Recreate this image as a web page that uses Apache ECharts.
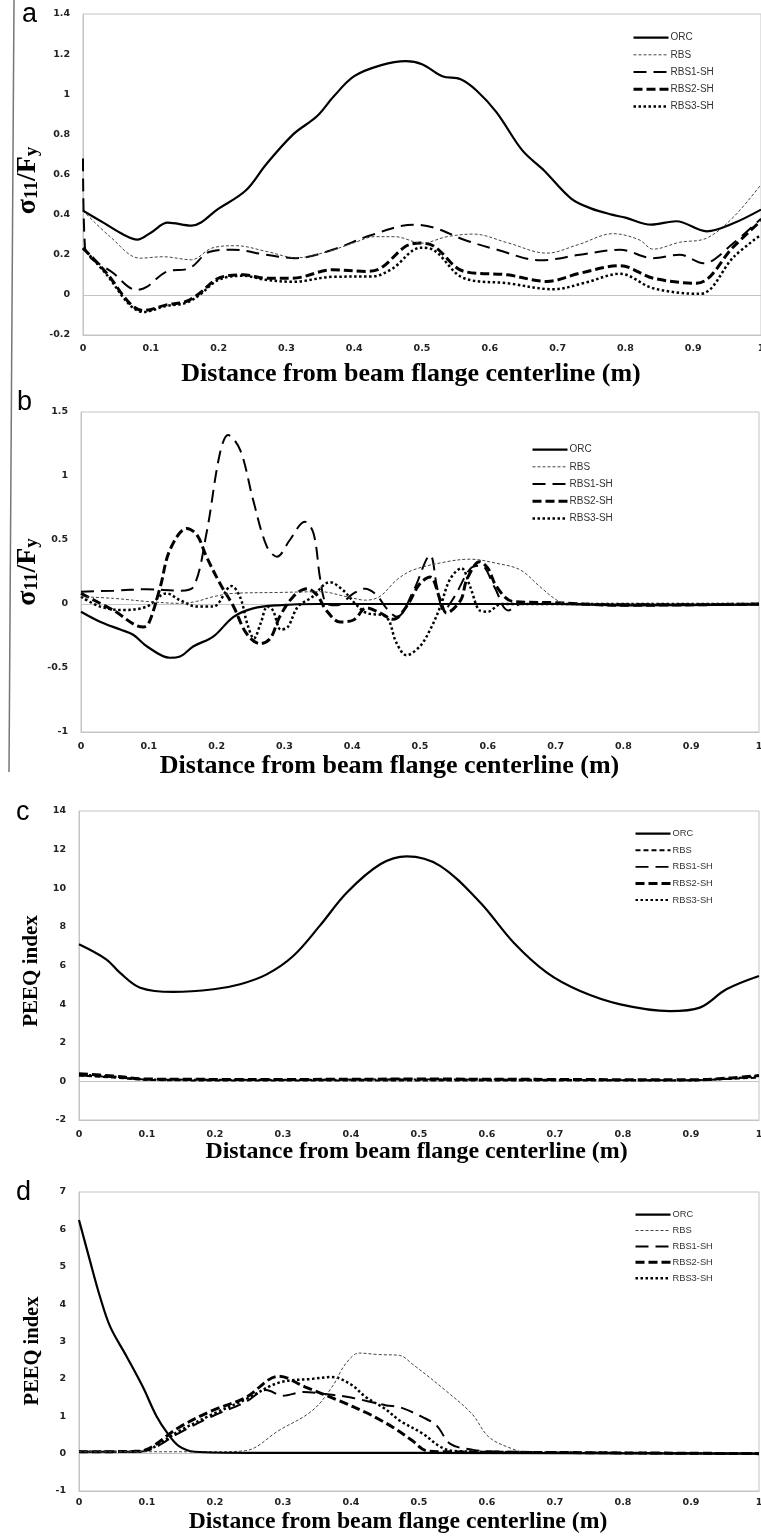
<!DOCTYPE html>
<html><head><meta charset="utf-8">
<script src="https://cdn.jsdelivr.net/npm/echarts/dist/echarts.min.js"></script>
<style>html,body{margin:0;padding:0;background:#fff}#c{width:761px;height:1540px}</style>
</head><body><div id="c"></div><script>
// ---------- DATA ----------
const seriesNames = ['ORC', 'RBS', 'RBS1-SH', 'RBS2-SH', 'RBS3-SH'];
const panelLetters = ['a', 'b', 'c', 'd'];
const xAxisTitle = 'Distance from beam flange centerline (m)';
const yTitleStress = '{m|σ}{s|11}{m|/F}{s|y}';
const yTitlePEEQ = 'PEEQ index';

// Panel a : sigma11/Fy
const a_ORC = [[0,0.42],[0.03,0.36],[0.06,0.30],[0.08,0.275],[0.1,0.31],[0.125,0.36],[0.16,0.345],[0.2,0.43],[0.24,0.52],[0.27,0.65],[0.31,0.80],[0.345,0.89],[0.37,0.99],[0.40,1.09],[0.44,1.145],[0.476,1.165],[0.5,1.15],[0.53,1.09],[0.557,1.075],[0.58,1.02],[0.61,0.91],[0.648,0.72],[0.68,0.62],[0.72,0.48],[0.75,0.43],[0.78,0.40],[0.80,0.385],[0.838,0.35],[0.875,0.367],[0.92,0.317],[0.96,0.358],[1.0,0.425]];
const a_RBS = [[0,0.42],[0.04,0.29],[0.084,0.183],[0.118,0.19],[0.16,0.175],[0.19,0.233],[0.226,0.245],[0.27,0.217],[0.315,0.185],[0.36,0.215],[0.40,0.26],[0.43,0.29],[0.46,0.29],[0.5,0.258],[0.537,0.29],[0.576,0.303],[0.626,0.26],[0.684,0.208],[0.73,0.25],[0.782,0.305],[0.82,0.275],[0.841,0.228],[0.88,0.262],[0.92,0.283],[0.96,0.39],[1.0,0.55]];
const a_RBS1 = [[0,0.68],[0.003,0.235],[0.045,0.108],[0.079,0.025],[0.094,0.04],[0.123,0.115],[0.157,0.133],[0.187,0.215],[0.221,0.225],[0.27,0.20],[0.314,0.183],[0.368,0.225],[0.427,0.30],[0.488,0.35],[0.518,0.335],[0.562,0.275],[0.611,0.225],[0.675,0.172],[0.733,0.20],[0.792,0.225],[0.841,0.183],[0.88,0.20],[0.915,0.158],[0.96,0.26],[1.0,0.38]];
const a_RBS2 = [[0,0.233],[0.035,0.108],[0.069,-0.042],[0.089,-0.078],[0.123,-0.05],[0.152,-0.033],[0.172,0.008],[0.2,0.083],[0.236,0.10],[0.27,0.083],[0.309,0.083],[0.368,0.125],[0.417,0.117],[0.44,0.135],[0.476,0.242],[0.498,0.258],[0.518,0.242],[0.562,0.117],[0.626,0.10],[0.684,0.067],[0.733,0.108],[0.792,0.145],[0.841,0.083],[0.905,0.058],[0.96,0.242],[1.0,0.37]];
const a_RBS3 = [[0,0.233],[0.035,0.10],[0.069,-0.05],[0.089,-0.085],[0.123,-0.055],[0.152,-0.04],[0.172,0.0],[0.2,0.075],[0.236,0.095],[0.27,0.075],[0.309,0.065],[0.368,0.09],[0.427,0.092],[0.456,0.13],[0.498,0.235],[0.518,0.222],[0.562,0.083],[0.626,0.058],[0.694,0.028],[0.74,0.06],[0.792,0.105],[0.841,0.033],[0.91,0.005],[0.96,0.19],[1.0,0.30]];

// Panel b : sigma11/Fy
const b_ORC = [[0,-0.06],[0.028,-0.138],[0.058,-0.2],[0.077,-0.24],[0.097,-0.33],[0.131,-0.42],[0.146,-0.41],[0.166,-0.33],[0.195,-0.255],[0.225,-0.10],[0.254,-0.034],[0.29,-0.01],[0.35,0.0],[0.5,0.0],[0.7,0.0],[0.8,-0.01],[1.0,-0.005]];
const b_RBS = [[0,0.057],[0.048,0.044],[0.097,0.02],[0.146,0.005],[0.17,0.02],[0.195,0.057],[0.225,0.083],[0.29,0.09],[0.353,0.096],[0.392,0.057],[0.42,0.03],[0.441,0.06],[0.466,0.19],[0.49,0.266],[0.539,0.33],[0.574,0.35],[0.613,0.318],[0.648,0.266],[0.677,0.135],[0.702,0.03],[0.72,0.0],[0.8,0.0],[1.0,0.0]];
const b_RBS1 = [[0,0.096],[0.048,0.104],[0.097,0.115],[0.146,0.104],[0.166,0.135],[0.185,0.55],[0.205,1.18],[0.217,1.32],[0.235,1.20],[0.254,0.81],[0.274,0.45],[0.289,0.37],[0.308,0.50],[0.33,0.643],[0.343,0.55],[0.353,0.19],[0.362,0.005],[0.377,-0.01],[0.402,0.083],[0.419,0.12],[0.436,0.07],[0.45,-0.03],[0.466,-0.1],[0.49,0.1],[0.515,0.38],[0.525,0.135],[0.535,-0.05],[0.55,0.05],[0.575,0.28],[0.59,0.3],[0.61,0.13],[0.63,-0.05],[0.65,0.0],[1.0,0.0]];
const b_RBS2 = [[0,0.083],[0.048,-0.05],[0.092,-0.18],[0.1,-0.15],[0.117,0.135],[0.131,0.42],[0.156,0.59],[0.171,0.54],[0.185,0.37],[0.205,0.16],[0.225,-0.02],[0.244,-0.23],[0.264,-0.31],[0.279,-0.27],[0.293,-0.1],[0.313,0.057],[0.333,0.12],[0.348,0.07],[0.362,-0.05],[0.382,-0.14],[0.402,-0.125],[0.421,-0.03],[0.441,-0.07],[0.461,-0.12],[0.48,-0.02],[0.5,0.16],[0.515,0.21],[0.53,0.03],[0.539,-0.07],[0.56,0.03],[0.569,0.19],[0.588,0.33],[0.6,0.28],[0.613,0.135],[0.637,0.02],[0.7,0.01],[0.8,-0.01],[1.0,0.0]];
const b_RBS3 = [[0,0.057],[0.028,-0.02],[0.062,-0.047],[0.097,-0.02],[0.126,0.083],[0.146,0.03],[0.171,-0.02],[0.195,-0.02],[0.222,0.14],[0.235,0.05],[0.245,-0.15],[0.255,-0.27],[0.265,-0.15],[0.275,-0.02],[0.283,-0.05],[0.295,-0.2],[0.305,-0.18],[0.32,-0.02],[0.34,0.05],[0.367,0.17],[0.386,0.11],[0.405,0.0],[0.421,-0.07],[0.45,-0.1],[0.465,-0.3],[0.48,-0.40],[0.5,-0.33],[0.515,-0.2],[0.53,-0.02],[0.544,0.19],[0.561,0.28],[0.574,0.135],[0.588,-0.05],[0.6,-0.06],[0.62,0.0],[0.7,0.0],[1.0,0.0]];

// Panel c : PEEQ index
const c_ORC = [[0,7.1],[0.04,6.32],[0.06,5.63],[0.09,4.85],[0.139,4.63],[0.198,4.77],[0.237,5.03],[0.276,5.54],[0.315,6.49],[0.354,8.05],[0.394,9.78],[0.443,11.24],[0.482,11.65],[0.531,11.16],[0.59,9.26],[0.639,7.19],[0.688,5.63],[0.737,4.68],[0.796,3.99],[0.869,3.64],[0.913,3.82],[0.952,4.77],[1.0,5.46]];
const c_RBS = [[0,0.3],[0.05,0.2],[0.1,0.08],[0.2,0.05],[0.4,0.05],[0.6,0.05],[0.8,0.05],[0.9,0.05],[0.95,0.12],[1.0,0.2]];
const c_RBS1 = [[0,0.3],[0.05,0.22],[0.1,0.1],[0.3,0.08],[0.5,0.1],[0.7,0.08],[0.9,0.06],[1.0,0.25]];
const c_RBS2 = [[0,0.4],[0.05,0.28],[0.1,0.12],[0.3,0.1],[0.5,0.12],[0.7,0.1],[0.9,0.08],[0.96,0.18],[1.0,0.3]];
const c_RBS3 = [[0,0.35],[0.05,0.25],[0.1,0.1],[0.3,0.08],[0.5,0.1],[0.7,0.08],[0.9,0.06],[1.0,0.28]];

// Panel d : PEEQ index
const d_ORC = [[0,6.25],[0.016,5.17],[0.031,4.19],[0.046,3.39],[0.07,2.6],[0.094,1.78],[0.114,1.0],[0.13,0.55],[0.147,0.2],[0.17,0.05],[0.25,0.02],[0.5,0.02],[1.0,0.0]];
const d_RBS = [[0,0.05],[0.1,0.05],[0.2,0.05],[0.245,0.08],[0.294,0.62],[0.343,1.15],[0.372,1.78],[0.392,2.4],[0.412,2.69],[0.441,2.65],[0.471,2.63],[0.49,2.4],[0.539,1.69],[0.578,1.06],[0.603,0.44],[0.637,0.13],[0.66,0.03],[1.0,0.0]];
const d_RBS1 = [[0,0.05],[0.08,0.05],[0.1,0.08],[0.147,0.55],[0.196,1.0],[0.245,1.38],[0.275,1.7],[0.3,1.55],[0.33,1.65],[0.36,1.6],[0.4,1.5],[0.452,1.29],[0.472,1.24],[0.506,0.97],[0.526,0.75],[0.546,0.26],[0.58,0.1],[0.61,0.06],[0.7,0.03],[1.0,0.0]];
const d_RBS2 = [[0,0.05],[0.08,0.06],[0.098,0.1],[0.147,0.7],[0.196,1.15],[0.245,1.5],[0.294,2.07],[0.333,1.78],[0.382,1.42],[0.422,1.1],[0.443,0.9],[0.462,0.7],[0.49,0.35],[0.51,0.08],[0.53,0.05],[0.7,0.03],[1.0,0.0]];
const d_RBS3 = [[0,0.05],[0.08,0.05],[0.098,0.08],[0.147,0.6],[0.196,1.05],[0.245,1.45],[0.294,1.9],[0.343,2.0],[0.372,2.05],[0.4,1.85],[0.422,1.51],[0.45,1.2],[0.472,0.88],[0.506,0.53],[0.53,0.2],[0.55,0.07],[0.7,0.03],[1.0,0.0]];

// Axis ranges
const xRange = [0, 1, 0.1];
const yRanges = [[-0.2, 1.4, 0.2], [-1, 1.5, 0.5], [-2, 14, 2], [-1, 7, 1]];

// ---------- STYLE / LAYOUT ----------
const panelData = [
  [a_ORC, a_RBS, a_RBS1, a_RBS2, a_RBS3],
  [b_ORC, b_RBS, b_RBS1, b_RBS2, b_RBS3],
  [c_ORC, c_RBS, c_RBS1, c_RBS2, c_RBS3],
  [d_ORC, d_RBS, d_RBS1, d_RBS2, d_RBS3]
];
const baseStyles = [
  {color: '#000', width: 2.2, type: 'solid'},
  {color: '#444', width: 1, type: [3, 2]},
  {color: '#000', width: 2, type: [13, 7]},
  {color: '#000', width: 3, type: [9, 4]},
  {color: '#000', width: 2.5, type: [2.5, 2.5]}
];
const cStyles = [
  baseStyles[0],
  {color: '#000', width: 2, type: [5, 3]},
  {color: '#000', width: 1.8, type: [13, 7]},
  {color: '#000', width: 3, type: [9, 4]},
  {color: '#000', width: 2, type: [2.5, 2.5]}
];
const layouts = [
  {grid: {left: 83, top: 14, width: 678, height: 321}, legend: {left: 632, top: 32, itemGap: 6, fs: 10},
   xName: {gap: 26, fs: 26, pr: 22}, yName: {gap: 41, pr: 12}, labelMargin: 9, letter: {x: 22, top: 1}, styles: baseStyles},
  {grid: {left: 81, top: 412, width: 678, height: 320}, legend: {left: 531, top: 444, itemGap: 6, fs: 10},
   xName: {gap: 21, fs: 26, pr: 61}, yName: {gap: 39, pr: 0}, labelMargin: 10, letter: {x: 17, top: 389}, styles: baseStyles},
  {grid: {left: 79, top: 811, width: 680, height: 309}, legend: {left: 634, top: 828, itemGap: 5.4, fs: 9.3},
   xName: {gap: 20, fs: 23.9, pr: 5}, yName: {gap: 37, pr: 11}, labelMargin: 10, letter: {x: 16, top: 799}, styles: cStyles},
  {grid: {left: 79, top: 1192, width: 680, height: 299}, legend: {left: 634, top: 1209, itemGap: 4.7, fs: 9.3},
   xName: {gap: 19, fs: 23.7, pr: 42}, yName: {gap: 36, pr: 19}, labelMargin: 7, letter: {x: 16, top: 1179}, styles: baseStyles}
];

const serif = "'Liberation Serif', 'Times New Roman', serif";
const tickFont = {fontFamily: "'DejaVu Sans', sans-serif", fontWeight: 'bold', fontSize: 9.5, color: '#222'};

const grids = [], xAxes = [], yAxes = [], series = [], legends = [], graphics = [];
layouts.forEach((L, p) => {
  grids.push(Object.assign({show: true, borderColor: '#c4c4c4', borderWidth: 1, backgroundColor: '#fff',
    containLabel: false, outerBoundsMode: 'none'}, L.grid));
  xAxes.push({
    type: 'value', gridIndex: p, min: xRange[0], max: xRange[1], interval: xRange[2],
    axisLine: {show: true, onZero: false, lineStyle: {color: '#c4c4c4'}},
    axisTick: {show: false}, splitLine: {show: false},
    axisLabel: Object.assign({margin: L.labelMargin, showMaxLabel: true, showMinLabel: true}, tickFont),
    name: xAxisTitle, nameLocation: 'middle', nameGap: L.xName.gap, nameMoveOverlap: false,
    nameTextStyle: {fontFamily: serif, fontWeight: 'bold', fontSize: L.xName.fs, color: '#000', padding: [0, L.xName.pr, 0, 0]}
  });
  const yr = yRanges[p];
  const isStress = p < 2;
  yAxes.push({
    type: 'value', gridIndex: p, min: yr[0], max: yr[1], interval: yr[2],
    axisLine: {show: true, lineStyle: {color: '#c4c4c4'}},
    axisTick: {show: false}, splitLine: {show: false},
    axisLabel: Object.assign({margin: 13}, tickFont),
    name: isStress ? yTitleStress : yTitlePEEQ, nameLocation: 'middle', nameRotate: 90,
    nameGap: L.yName.gap, nameMoveOverlap: false,
    nameTextStyle: isStress ? {
      padding: [0, L.yName.pr, 0, 0],
      rich: {
        m: {fontFamily: serif, fontWeight: 'bold', fontSize: 28, color: '#000', verticalAlign: 'bottom', lineHeight: 30},
        s: {fontFamily: serif, fontWeight: 'bold', fontSize: 19, color: '#000', verticalAlign: 'bottom', lineHeight: 12}
      }
    } : {fontFamily: serif, fontWeight: 'bold', fontSize: p === 2 ? 21 : 20.5, color: '#000', padding: [0, L.yName.pr, 0, 0]}
  });
  panelData[p].forEach((data, i) => {
    const st = L.styles[i];
    const s = {
      type: 'line', name: seriesNames[i], xAxisIndex: p, yAxisIndex: p, data: data,
      smooth: 0.35, showSymbol: false, symbol: 'none', silent: true, z: 10 - i,
      lineStyle: {color: st.color, width: st.width, type: st.type},
      itemStyle: {color: st.color}
    };
    if (i === 0) {
      s.markLine = {silent: true, symbol: 'none', z: 1, label: {show: false},
        lineStyle: {color: '#c4c4c4', width: 1, type: 'solid'}, data: [{yAxis: 0}]};
    }
    series.push(s);
  });
  legends.push({
    orient: 'vertical', left: L.legend.left, top: L.legend.top, itemGap: L.legend.itemGap,
    itemWidth: 35, itemHeight: 14, padding: 0, selectedMode: false,
    itemStyle: {opacity: 0, color: 'rgba(0,0,0,0)', borderColor: 'rgba(0,0,0,0)', borderWidth: 0},
    textStyle: {fontFamily: "'Liberation Sans', Arial, sans-serif", fontSize: L.legend.fs, color: '#333', padding: [0, 0, 0, -3]},
    data: seriesNames.map((n, i) => ({name: n,
      itemStyle: {opacity: 0, color: 'rgba(0,0,0,0)', borderColor: 'rgba(0,0,0,0)', borderWidth: 0},
      lineStyle: {color: L.styles[i].color, width: L.styles[i].width, type: L.styles[i].type, opacity: 1}}))
  });
  graphics.push({type: 'text', left: L.letter.x, top: L.letter.top,
    style: {text: panelLetters[p], fontFamily: "'Liberation Sans', Arial, sans-serif", fontSize: 27, fill: '#000'}});
});
// left frame line of panels a-b
graphics.push({type: 'line', shape: {x1: 14, y1: 0, x2: 9, y2: 772}, style: {stroke: '#777', lineWidth: 1.5}});

const chart = echarts.init(document.getElementById('c'), null, {renderer: 'canvas'});
chart.setOption({
  animation: false,
  backgroundColor: '#fff',
  grid: grids, xAxis: xAxes, yAxis: yAxes, series: series, legend: legends, graphic: graphics
});
</script></body></html>
